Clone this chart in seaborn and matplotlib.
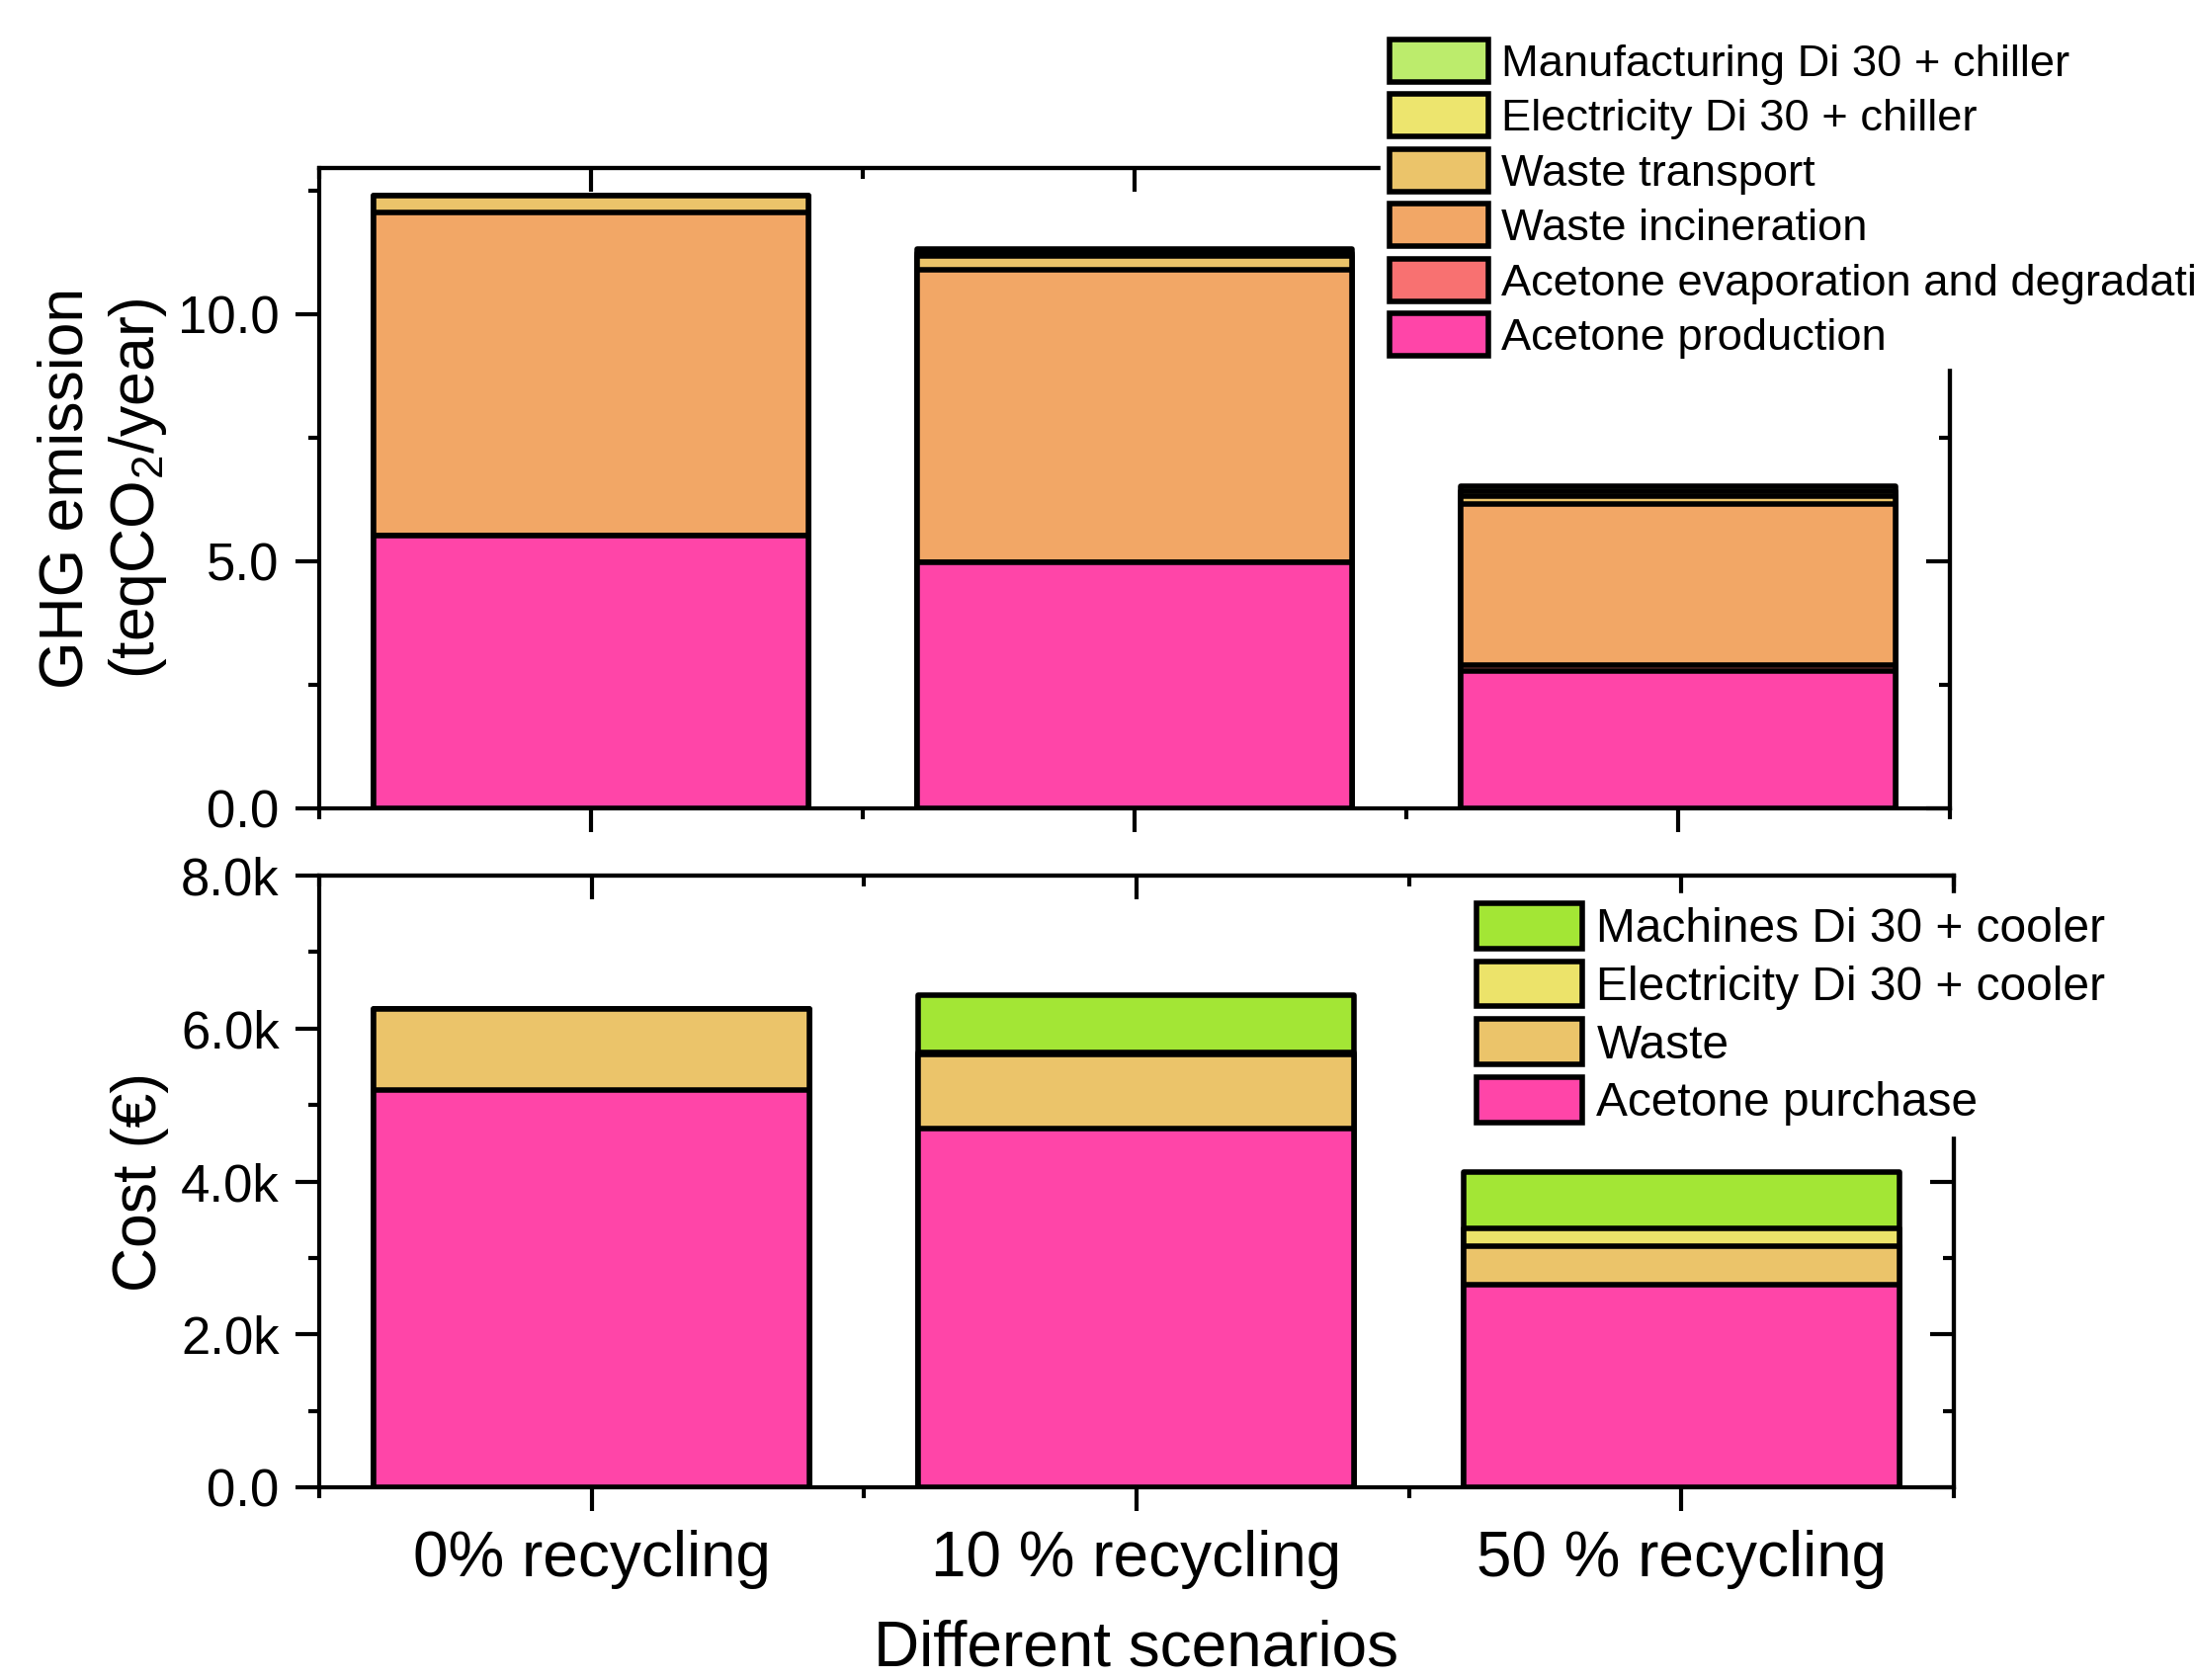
import numpy as np
import matplotlib
matplotlib.use("Agg")
import matplotlib.pyplot as plt
import seaborn as sns
from matplotlib.patches import Patch
from matplotlib.ticker import FixedLocator, FuncFormatter, NullFormatter

# ---------------- data ----------------
scenarios = ["0% recycling", "10 % recycling", "50 % recycling"]

ghg_labels = ["Acetone production", "Acetone evaporation and degradation",
              "Waste incineration", "Waste transport",
              "Electricity Di 30 + chiller", "Manufacturing Di 30 + chiller"]
acetone_production = [5.52, 4.98, 2.78]
acetone_evaporation = [0.0, 0.0, 0.11]
waste_incineration = [6.54, 5.91, 3.26]
waste_transport = [0.33, 0.28, 0.17]
electricity_chiller = [0.0, 0.06, 0.10]
manufacturing_chiller = [0.0, 0.08, 0.10]

cost_labels = ["Acetone purchase", "Waste",
               "Electricity Di 30 + cooler", "Machines Di 30 + cooler"]
acetone_purchase = [5200, 4690, 2650]
waste_cost = [1060, 970, 510]
electricity_cooler = [0, 30, 220]
machines_cooler = [0, 750, 740]

ghg_colors = ["#FF45A8", "#F87171", "#F2A766", "#EBC46A", "#EDE56E", "#BCEC6C"]
cost_colors = ["#FF45A8", "#EBC46A", "#ECE36A", "#A3E635"]

# ---------------- style ----------------
sns.set_style("ticks")
plt.rcParams["font.family"] = ["Liberation Sans", "DejaVu Sans"]
plt.rcParams["mathtext.fontset"] = "custom"
plt.rcParams["mathtext.rm"] = "Liberation Sans"
plt.rcParams["mathtext.it"] = "Liberation Sans:italic"
plt.rcParams["mathtext.bf"] = "Liberation Sans:bold"
plt.rcParams["axes.linewidth"] = 3
for k in ["text.color", "axes.labelcolor", "xtick.color", "ytick.color", "axes.edgecolor"]:
    plt.rcParams[k] = "black"

EDGE_LW = 4

fig = plt.figure(figsize=(22.2, 17), dpi=100)
ax1 = fig.add_axes([0.1455, 0.5188, 0.7432, 0.3812])
ax2 = fig.add_axes([0.1455, 0.1147, 0.7450, 0.3641])


def stacked(ax, series, colors):
    cum = np.cumsum(np.array(series, dtype=float), axis=0)
    for i in range(len(series) - 1, -1, -1):
        sns.barplot(x=scenarios, y=cum[i], color=colors[i], saturation=1,
                    edgecolor="black", linewidth=EDGE_LW, width=0.8,
                    errorbar=None, ax=ax)
    for p in ax.patches:
        p.set_joinstyle("round")


stacked(ax1, [acetone_production, acetone_evaporation, waste_incineration,
              waste_transport, electricity_chiller, manufacturing_chiller], ghg_colors)
stacked(ax2, [acetone_purchase, waste_cost, electricity_cooler, machines_cooler], cost_colors)

ax1.set_ylim(0, 12.95)
ax2.set_ylim(0, 8000)

MAJ_LEN, MIN_LEN, TW = 17, 8, 3


def style_axis(ax, yticks, yminor, fmt, show_xlabels):
    ax.set_xlim(-0.5, 2.5)
    ax.set_yticks(yticks)
    ax.yaxis.set_minor_locator(FixedLocator(yminor))
    ax.yaxis.set_major_formatter(FuncFormatter(fmt))
    ax.xaxis.set_minor_locator(FixedLocator([-0.5, 0.5, 1.5, 2.5]))
    for s in ax.spines.values():
        s.set_visible(True)
        s.set_linewidth(3)
        s.set_color("black")
    ax.tick_params(axis="both", which="major", direction="out", length=MAJ_LEN,
                   width=TW, top=False, right=False, color="black")
    ax.tick_params(axis="both", which="minor", direction="out", length=MIN_LEN,
                   width=TW, top=False, right=False, color="black")
    ax.tick_params(axis="y", labelsize=38, pad=12, labelcolor="black")
    ax.tick_params(axis="x", labelsize=46, pad=14, labelbottom=show_xlabels,
                   labelcolor="black")
    ax.set_xlabel("")
    # inward ticks on top and right
    sx = ax.secondary_xaxis("top")
    sx.set_xticks([0, 1, 2])
    sx.xaxis.set_minor_locator(FixedLocator([-0.5, 0.5, 1.5, 2.5]))
    sx.xaxis.set_major_formatter(NullFormatter())
    sx.tick_params(which="major", direction="in", length=MAJ_LEN, width=TW, color="black")
    sx.tick_params(which="minor", direction="in", length=MIN_LEN, width=TW, color="black")
    sx.spines["top"].set_linewidth(3)
    sy = ax.secondary_yaxis("right")
    sy.set_yticks(yticks)
    sy.yaxis.set_minor_locator(FixedLocator(yminor))
    sy.yaxis.set_major_formatter(NullFormatter())
    sy.tick_params(which="major", direction="in", length=MAJ_LEN, width=TW, color="black")
    sy.tick_params(which="minor", direction="in", length=MIN_LEN, width=TW, color="black")
    sy.spines["right"].set_linewidth(3)


style_axis(ax1, [0, 5, 10], [2.5, 7.5, 12.5], lambda v, p: f"{v:.1f}", False)
style_axis(ax2, [0, 2000, 4000, 6000, 8000], [1000, 3000, 5000, 7000],
           lambda v, p: "0.0" if v == 0 else f"{v/1000:.1f}k", True)

ax2.set_xticks([0, 1, 2])
ax2.set_xticklabels(scenarios, fontsize=46, color="black")

ax1.set_ylabel("GHG emission\n(teqCO$_2$/year)", fontsize=45, linespacing=1.25, color="black")
ax2.set_ylabel("Cost (€)", fontsize=45, color="black")
ax1.yaxis.set_label_coords(-0.092, 0.5)
ax2.yaxis.set_label_coords(-0.092, 0.5)
ax2.set_xlabel("Different scenarios", fontsize=46, labelpad=22, color="black")

# ---------------- legends ----------------
h1 = [Patch(facecolor=c, edgecolor="black", linewidth=EDGE_LW, label=l)
      for c, l in zip(ghg_colors, ghg_labels)][::-1]
fig.legend(handles=h1, loc="upper left", bbox_to_anchor=(0.6293, 0.982),
           bbox_transform=fig.transFigure, fontsize=32.6, frameon=True,
           facecolor="white", edgecolor="white", framealpha=1, fancybox=False,
           handlelength=2.2, handleheight=1.09, labelspacing=0.21,
           handletextpad=0.3, borderpad=0.2, borderaxespad=0, labelcolor="black")

h2 = [Patch(facecolor=c, edgecolor="black", linewidth=EDGE_LW, label=l)
      for c, l in zip(cost_colors, cost_labels)][::-1]
fig.legend(handles=h2, loc="upper left", bbox_to_anchor=(0.6685, 0.468),
           bbox_transform=fig.transFigure, fontsize=34.5, frameon=True,
           facecolor="white", edgecolor="white", framealpha=1, fancybox=False,
           handlelength=2.24, handleheight=1.09, labelspacing=0.20,
           handletextpad=0.3, borderpad=0.2, borderaxespad=0, labelcolor="black")

fig.savefig("out.png", dpi=100)
